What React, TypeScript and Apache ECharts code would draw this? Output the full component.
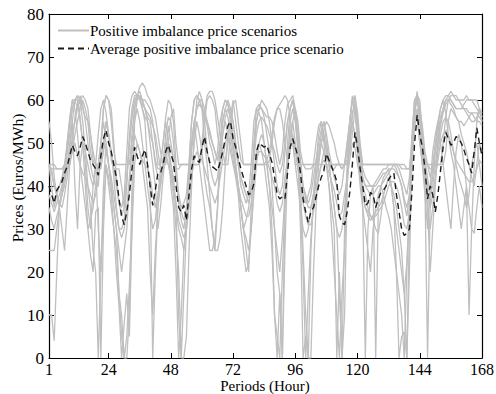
import React, { useEffect, useRef } from "react";
import * as echarts from "echarts";

const X_TICKS = [1, 24, 48, 72, 96, 120, 144, 168];
const Y_MIN = 0;
const Y_MAX = 80;
const Y_INTERVAL = 10;
const SCEN_NAME = "Positive imbalance price scenarios";
const AVG_NAME = "Average positive imbalance price scenario";
const X_NAME = "Periods (Hour)";
const Y_NAME = "Prices (Euros/MWh)";

const avg = [
  40, 38, 36, 39, 40, 41, 43, 44.5, 47, 49.5, 48, 47, 49, 51.5, 50, 48, 46, 45, 44, 42.5, 47, 51, 53, 50,
  48, 45, 42, 37, 33, 31, 34, 38, 44, 49, 47, 45, 47, 48.5, 45, 40, 35.5, 39, 43, 43, 45, 48, 49.5, 47.5,
  45.5, 40, 35, 34, 35.5, 32, 38, 44, 47, 46, 45.5, 49, 51.5, 48, 45.5, 44.5, 44, 43.5, 45.5, 48, 51, 54, 55, 51,
  49, 46.5, 44, 42, 40, 38, 38.5, 40.5, 48, 50, 49.5, 49, 49.5, 47.5, 45.5, 42, 38, 37, 37.5, 37, 43, 49, 51, 49,
  47, 43, 37, 34, 31.5, 34, 35, 37.5, 40, 42, 43.5, 47.5, 46, 44.5, 43, 41, 33, 31.5, 31, 34, 38.5, 45, 52.5, 49,
  44, 40, 35.5, 36, 38.5, 38, 35, 37, 38.5, 39, 40, 41.5, 42.5, 43, 38, 34, 30, 28.5, 29, 30, 39, 50, 56.5, 52,
  49, 44, 37, 40, 38, 34, 38, 43.5, 49, 52.5, 51, 49.5, 50, 51.5, 51, 50, 48.5, 46.5, 45, 43, 48, 53.5, 50, 47,
];

const s1 = [
  45, 45, 45, 44, 44, 44, 45, 45, 45, 50, 56, 59, 60, 61, 60, 58, 52, 46, 45, 45, 50, 58, 61, 60,
  55, 48, 45, 45, 45, 45, 45, 45, 52, 58, 61, 63, 64, 63, 61, 60, 58, 56, 52, 48, 45, 45, 50, 56,
  58, 50, 45, 45, 45, 45, 45, 45, 45, 45, 45, 50, 57, 61, 62, 62, 60, 56, 52, 48, 45, 45, 52, 59,
  60, 55, 50, 45, 45, 45, 45, 45, 45, 45, 45, 45, 45, 46, 50, 55, 58, 59, 60, 61, 60, 56, 50, 45,
  45, 45, 45, 44, 44, 44, 45, 45, 48, 52, 55, 50, 46, 45, 45, 45, 45, 45, 45, 45, 50, 56, 61, 57,
  50, 45, 45, 45, 45, 45, 45, 45, 45, 45, 45, 45, 45, 45, 45, 45, 44, 44, 44, 44, 50, 58, 61, 60,
  52, 45, 45, 44, 44, 45, 45, 45, 50, 56, 60, 61, 61, 61, 60, 60, 60, 61, 60, 60, 60, 60, 58, 56,
];
const s2 = [
  55, 50, 42, 38, 36, 38, 42, 50, 56, 60, 60, 58, 61, 59, 55, 50, 45, 42, 40, 40, 48, 58, 61, 60,
  58, 50, 42, 36, 35, 38, 48, 58, 61, 62, 61, 61, 60, 60, 59, 58, 55, 50, 45, 45, 50, 56, 60, 59,
  55, 45, 38, 35, 36, 38, 45, 55, 60, 61, 60, 58, 56, 54, 50, 48, 45, 48, 55, 58, 60, 59, 57, 55,
  50, 45, 40, 38, 36, 38, 45, 55, 58, 59, 58, 57, 56, 56, 55, 52, 48, 45, 48, 55, 59, 60, 61, 58,
  52, 45, 38, 36, 38, 40, 45, 50, 54, 55, 52, 48, 45, 44, 44, 45, 45, 44, 45, 50, 55, 60, 61, 55,
  48, 42, 40, 39, 38, 38, 39, 40, 40, 41, 42, 43, 44, 45, 45, 44, 42, 40, 38, 42, 52, 60, 61, 58,
  54, 48, 45, 42, 44, 48, 52, 56, 58, 60, 61, 62, 61, 60, 60, 59, 58, 57, 56, 55, 55, 56, 58, 57,
];
const s3 = [
  44, 44, 44, 44, 44, 44, 44, 44, 45, 48, 52, 55, 58, 60, 58, 55, 48, 45, 44, 44, 44, 48, 55, 52,
  46, 44, 44, 44, 40, 35, 42, 50, 56, 60, 61, 60, 58, 56, 55, 52, 50, 46, 44, 44, 45, 48, 54, 50,
  46, 44, 44, 45, 45, 45, 45, 45, 45, 45, 45, 48, 55, 60, 61, 60, 58, 52, 48, 45, 45, 50, 56, 60,
  55, 50, 46, 45, 45, 45, 45, 45, 45, 45, 45, 45, 46, 48, 52, 56, 58, 58, 55, 50, 46, 48, 55, 58,
  55, 48, 45, 45, 45, 45, 45, 45, 45, 45, 45, 45, 45, 45, 45, 45, 45, 45, 45, 46, 48, 52, 58, 55,
  48, 45, 45, 45, 45, 45, 45, 45, 45, 45, 45, 45, 45, 45, 45, 45, 45, 45, 44, 44, 48, 55, 58, 55,
  50, 46, 45, 45, 45, 45, 45, 45, 45, 48, 55, 58, 57, 56, 55, 55, 54, 55, 56, 57, 57, 57, 56, 55,
];
const s4 = [
  25, 25, 25, 30, 35, 40, 45, 48, 52, 58, 60, 61, 56, 50, 40, 30, 24, 20, 34, 35, 0, 30, 45, 40,
  35, 30, 20, 12, 0, 8, 15, 5, 30, 55, 60, 61, 58, 55, 45, 40, 0, 20, 35, 45, 50, 55, 50, 40,
  35, 20, 0, 10, 25, 33, 45, 55, 60, 61, 60, 58, 50, 45, 38, 30, 25, 35, 50, 58, 60, 59, 55, 50,
  45, 40, 35, 30, 25, 20, 35, 50, 58, 57, 55, 50, 45, 40, 30, 10, 0, 15, 0, 35, 50, 58, 60, 55,
  48, 30, 0, 5, 0, 25, 38, 45, 52, 55, 50, 45, 40, 35, 30, 0, 20, 0, 30, 45, 55, 61, 58, 50,
  45, 35, 0, 30, 38, 40, 0, 35, 40, 42, 43, 44, 40, 35, 20, 0, 5, 6, 0, 30, 50, 60, 61, 55,
  48, 40, 0, 35, 45, 50, 55, 58, 60, 57, 52, 48, 45, 40, 35, 30, 35, 40, 10, 30, 45, 55, 58, 55,
];
const s5 = [
  10, 10, 4, 20, 35, 38, 40, 45, 50, 55, 40, 30, 45, 50, 45, 35, 30, 40, 45, 30, 20, 40, 50, 45,
  40, 35, 30, 15, 10, 0, 5, 17, 30, 45, 50, 48, 45, 40, 35, 20, 10, 25, 35, 40, 45, 48, 45, 42,
  38, 30, 20, 0, 15, 30, 42, 50, 55, 50, 45, 40, 35, 30, 25, 25, 28, 35, 45, 52, 55, 52, 48, 45,
  42, 38, 30, 25, 20, 22, 30, 40, 48, 50, 48, 45, 40, 35, 25, 10, 5, 0, 20, 35, 45, 52, 55, 50,
  45, 35, 20, 0, 15, 28, 35, 42, 48, 50, 48, 45, 40, 30, 20, 10, 0, 15, 25, 40, 50, 55, 52, 48,
  40, 35, 30, 25, 20, 30, 35, 38, 40, 38, 35, 33, 30, 25, 20, 15, 10, 0, 20, 35, 50, 58, 56, 50,
  45, 38, 30, 40, 48, 52, 55, 50, 45, 40, 35, 30, 40, 48, 52, 50, 45, 40, 35, 30, 29, 35, 40, 35,
];
const s6 = [
  45, 40, 35, 38, 40, 42, 45, 50, 55, 58, 60, 60, 55, 50, 48, 45, 42, 40, 45, 52, 58, 60, 57, 52,
  48, 42, 35, 30, 30, 32, 40, 52, 58, 61, 61, 60, 59, 58, 56, 55, 50, 45, 42, 40, 45, 52, 56, 55,
  50, 42, 36, 32, 30, 35, 42, 50, 55, 58, 60, 60, 58, 55, 52, 50, 48, 46, 50, 55, 58, 60, 58, 55,
  50, 46, 42, 40, 38, 36, 40, 48, 55, 58, 60, 59, 58, 55, 50, 45, 40, 38, 40, 48, 55, 58, 60, 57,
  52, 46, 40, 38, 36, 38, 42, 46, 50, 53, 55, 52, 48, 45, 42, 40, 38, 40, 45, 50, 55, 60, 58, 52,
  46, 42, 40, 40, 40, 40, 41, 42, 43, 44, 44, 45, 45, 45, 44, 42, 40, 36, 33, 38, 50, 58, 62, 57,
  50, 45, 40, 38, 42, 48, 54, 58, 60, 61, 61, 60, 59, 58, 58, 58, 59, 60, 60, 60, 59, 58, 57, 56,
];
const s7 = [
  35, 32, 30, 33, 35, 38, 42, 48, 55, 60, 58, 52, 45, 40, 35, 30, 32, 35, 40, 45, 50, 55, 50, 45,
  40, 35, 30, 25, 20, 25, 30, 40, 50, 55, 58, 55, 50, 45, 40, 35, 30, 32, 38, 42, 45, 50, 48, 45,
  40, 35, 30, 28, 25, 30, 35, 42, 50, 55, 52, 48, 42, 38, 35, 30, 25, 25, 28, 35, 45, 52, 55, 50,
  45, 40, 35, 30, 28, 25, 30, 38, 45, 50, 52, 50, 45, 40, 35, 30, 25, 20, 28, 38, 45, 52, 50, 45,
  40, 35, 30, 28, 30, 35, 38, 40, 42, 45, 48, 50, 45, 40, 35, 30, 28, 30, 35, 42, 50, 55, 52, 48,
  42, 38, 35, 33, 32, 33, 34, 35, 36, 38, 40, 42, 40, 35, 30, 25, 20, 15, 22, 35, 48, 55, 57, 52,
  45, 40, 35, 30, 35, 42, 48, 52, 55, 56, 55, 52, 48, 45, 42, 40, 38, 35, 38, 45, 48, 50, 45, 40,
];
const s8 = [
  45, 44, 40, 38, 35, 30, 25, 35, 45, 52, 55, 58, 60, 55, 48, 40, 35, 25, 20, 0, 20, 35, 45, 42,
  38, 30, 25, 15, 5, 0, 0, 10, 40, 58, 61, 62, 60, 58, 55, 50, 45, 40, 30, 35, 42, 48, 50, 45,
  42, 35, 10, 0, 0, 5, 25, 40, 52, 60, 62, 60, 55, 48, 45, 42, 40, 42, 48, 55, 58, 56, 52, 48,
  44, 40, 35, 30, 32, 35, 40, 48, 55, 58, 58, 56, 52, 48, 40, 30, 20, 15, 0, 25, 45, 55, 58, 55,
  50, 40, 25, 10, 0, 0, 20, 35, 45, 50, 52, 48, 45, 40, 35, 30, 15, 0, 10, 40, 55, 60, 58, 52,
  45, 40, 38, 35, 33, 32, 30, 29, 33, 38, 40, 42, 40, 38, 35, 30, 25, 15, 0, 20, 50, 60, 61, 58,
  52, 45, 35, 20, 30, 40, 50, 55, 58, 60, 60, 59, 58, 56, 55, 52, 50, 48, 45, 42, 40, 45, 50, 48,
];
const s9 = [
  45, 43, 40, 38, 36, 35, 38, 42, 48, 55, 60, 61, 60, 58, 56, 55, 52, 48, 45, 44, 46, 50, 55, 52,
  48, 44, 40, 36, 33, 35, 42, 50, 56, 60, 61, 61, 60, 58, 57, 56, 54, 52, 48, 44, 44, 46, 50, 49,
  46, 42, 38, 34, 32, 34, 40, 48, 54, 58, 59, 58, 56, 55, 53, 50, 48, 46, 48, 52, 56, 58, 56, 52,
  48, 45, 42, 40, 38, 38, 40, 46, 52, 55, 56, 55, 54, 52, 50, 48, 45, 43, 45, 50, 55, 58, 60, 56,
  50, 45, 40, 37, 35, 35, 38, 42, 46, 50, 53, 55, 54, 52, 50, 47, 45, 44, 45, 48, 52, 57, 59, 54,
  48, 44, 42, 41, 40, 40, 40, 41, 42, 43, 43, 44, 44, 44, 43, 42, 40, 37, 35, 38, 48, 57, 60, 56,
  52, 46, 42, 38, 40, 45, 50, 54, 57, 59, 60, 60, 59, 58, 58, 58, 58, 58, 57, 57, 56, 55, 55, 54,
];
const s10 = [
  38, 36, 34, 36, 38, 40, 42, 44, 46, 48, 50, 47, 45, 43, 42, 40, 38, 36, 38, 42, 46, 50, 48, 45,
  42, 38, 34, 30, 28, 30, 35, 42, 48, 52, 50, 48, 46, 45, 44, 42, 38, 35, 38, 42, 44, 46, 45, 43,
  40, 36, 32, 30, 28, 30, 36, 42, 46, 48, 47, 46, 44, 42, 40, 38, 36, 38, 42, 46, 50, 52, 50, 46,
  43, 40, 37, 35, 33, 33, 36, 42, 46, 48, 48, 47, 46, 44, 42, 40, 36, 34, 36, 42, 46, 50, 52, 48,
  44, 40, 36, 33, 31, 31, 34, 38, 42, 45, 46, 45, 43, 41, 39, 36, 33, 34, 38, 42, 46, 50, 49, 45,
  42, 38, 35, 34, 33, 33, 33, 34, 35, 36, 38, 40, 41, 41, 40, 38, 35, 31, 30, 34, 45, 54, 56, 50,
  46, 42, 38, 35, 38, 42, 46, 50, 52, 53, 52, 50, 48, 46, 45, 44, 43, 42, 41, 41, 42, 44, 46, 45,
];

const scenarios = [s1, s2, s3, s4, s5, s6, s7, s8, s9, s10];

const FONT = "Liberation Serif";

export default function App() {
  const ref = useRef<HTMLDivElement>(null);
  useEffect(() => {
    if (!ref.current) return;
    const chart = echarts.init(ref.current, null, { renderer: "svg" });
    const toPts = (arr: number[]) => arr.map((v, i) => [i + 1, v]);
    const grey = "#bfbfbf";
    const series: any[] = scenarios.map((s) => ({
      name: SCEN_NAME,
      type: "line",
      data: toPts(s),
      symbol: "none",
      lineStyle: { color: grey, width: 1.3 },
      itemStyle: { color: grey },
      xAxisIndex: 0,
      yAxisIndex: 0,
      z: 2,
    }));
    series.push({
      name: AVG_NAME,
      type: "line",
      data: toPts(avg),
      symbol: "none",
      lineStyle: { color: "#1a1a1a", width: 1.4, type: [6, 4] },
      itemStyle: { color: "#1a1a1a" },
      xAxisIndex: 0,
      yAxisIndex: 0,
      z: 3,
    });
    const axisLine = { show: true, onZero: false, lineStyle: { color: "#000", width: 1.2 } };
    const tickStyle = { color: "#000", width: 1 };
    chart.setOption({
      animation: false,
      backgroundColor: "#fff",
      grid: { left: 49, right: 14, top: 14, bottom: 36, containLabel: false, outerBoundsMode: "none" },
      legend: {
        orient: "vertical",
        left: 57,
        top: 23,
        padding: 0,
        itemWidth: 31,
        itemHeight: 14,
        itemGap: 3,
        data: [SCEN_NAME, AVG_NAME],
        itemStyle: { opacity: 0 },
        textStyle: { fontFamily: FONT, fontSize: 15, color: "#000", padding: [0, 0, 0, -4] },
      },
      graphic: [
        {
          type: "text",
          x: 265,
          y: 386,
          style: {
            text: X_NAME,
            fontFamily: FONT,
            fontSize: 15,
            fill: "#000",
            align: "center",
            verticalAlign: "middle",
          },
        },
        {
          type: "text",
          x: 17,
          y: 178,
          rotation: Math.PI / 2,
          style: {
            text: Y_NAME,
            fontFamily: FONT,
            fontSize: 15.5,
            fill: "#000",
            align: "center",
            verticalAlign: "middle",
          },
        },
      ],
      xAxis: [
        {
          type: "value",
          min: 1,
          max: 168,
          position: "bottom",
          axisLine,
          splitLine: { show: false },
          axisTick: { inside: true, length: 5, lineStyle: tickStyle, customValues: X_TICKS },
          axisLabel: { fontFamily: FONT, fontSize: 16, color: "#000", margin: 3, customValues: X_TICKS },
        },
        {
          type: "value",
          min: 1,
          max: 168,
          position: "top",
          axisLine,
          splitLine: { show: false },
          axisTick: { inside: true, length: 5, lineStyle: tickStyle, customValues: X_TICKS },
          axisLabel: { show: false },
        },
      ],
      yAxis: [
        {
          type: "value",
          min: Y_MIN,
          max: Y_MAX,
          interval: Y_INTERVAL,
          position: "left",
          axisLine,
          splitLine: { show: false },
          axisTick: { inside: true, length: 5, lineStyle: tickStyle },
          axisLabel: { fontFamily: FONT, fontSize: 17, color: "#000", margin: 5 },
        },
        {
          type: "value",
          min: Y_MIN,
          max: Y_MAX,
          interval: Y_INTERVAL,
          position: "right",
          axisLine,
          splitLine: { show: false },
          axisTick: { inside: true, length: 5, lineStyle: tickStyle },
          axisLabel: { show: false },
        },
      ],
      series,
    });
    return () => chart.dispose();
  }, []);
  return <div ref={ref} style={{ width: 496, height: 394, position: "absolute", left: 0, top: 0 }} />;
}
